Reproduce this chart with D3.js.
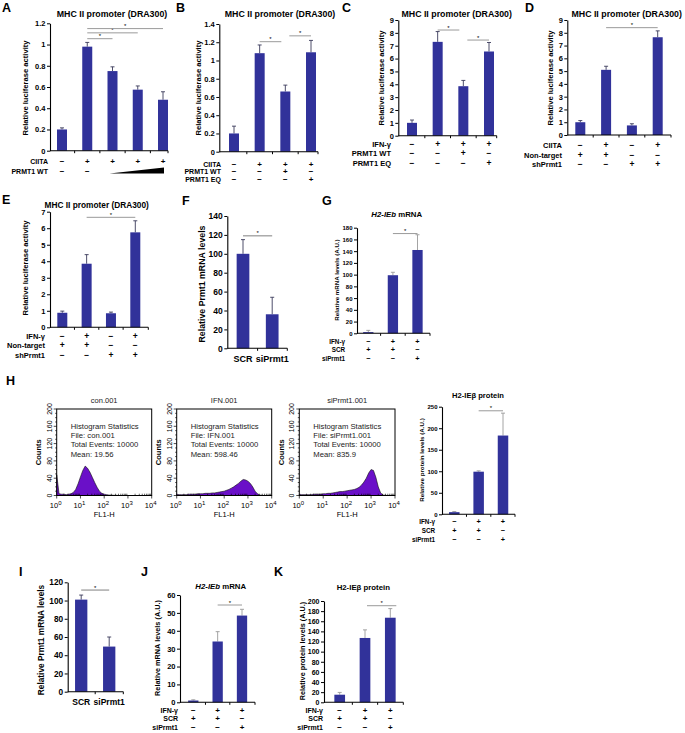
<!DOCTYPE html>
<html><head><meta charset="utf-8">
<script src="https://cdnjs.cloudflare.com/ajax/libs/d3/7.8.5/d3.min.js"></script>
<style>body{margin:0;background:#fff}svg{display:block}</style>
</head><body><svg id="c" width="685" height="733"></svg>
<script>
// ---------------- DATA ----------------
const luciferaseTitle = "MHC II promoter (DRA300)";
const lucLabel = "Relative luciferase activity";

const aValues = [0.20, 0.98, 0.75, 0.575, 0.48];
const aErrors = [0.015, 0.04, 0.04, 0.035, 0.075];
const aTicks = [0, 0.2, 0.4, 0.6, 0.8, 1, 1.2];
const aRows = [["CIITA", ["−", "+", "+", "+", "+"]], ["PRMT1 WT", ["−", "−", "", "", ""]]];
const aSig = [[1, 2, 1.055], [1, 3, 1.11], [1, 4, 1.15]];

const bValues = [0.20, 1.08, 0.66, 1.09];
const bErrors = [0.08, 0.09, 0.07, 0.13];
const bTicks = [0, 0.2, 0.4, 0.6, 0.8, 1, 1.2, 1.4];
const bRows = [["CIITA", ["−", "+", "+", "+"]], ["PRMT1 WT", ["−", "−", "+", "−"]], ["PRMT1 EQ", ["−", "−", "−", "+"]]];
const bSig = [[1, 2, 1.206], [2, 3, 1.27]];

const cValues = [1.0, 7.3, 3.85, 6.55];
const cErrors = [0.22, 0.8, 0.45, 0.7];
const cTicks = [0, 1, 2, 3, 4, 5, 6, 7, 8, 9];
const cRows = [["IFN-γ", ["−", "+", "+", "+"]], ["PRMT1 WT", ["−", "−", "+", "−"]], ["PRMT1 EQ", ["−", "−", "−", "+"]]];
const cSig = [[1, 2, 8.22], [2, 3, 7.44]];

const dValues = [1.0, 5.1, 0.75, 7.65];
const dErrors = [0.13, 0.28, 0.13, 0.5];
const dTicks = [0, 1, 2, 3, 4, 5, 6, 7, 8, 9];
const dRows = [["CIITA", ["−", "+", "−", "+"]], ["Non-target", ["+", "+", "−", "−"]], ["shPrmt1", ["−", "−", "+", "+"]]];
const dSig = [[1, 3, 8.4]];

const eValues = [0.88, 3.85, 0.85, 5.75];
const eErrors = [0.1, 0.55, 0.07, 0.7];
const eTicks = [0, 1, 2, 3, 4, 5, 6, 7];
const eRows = [["IFN-γ", ["−", "+", "−", "+"]], ["Non-target", ["+", "+", "−", "−"]], ["shPrmt1", ["−", "−", "+", "+"]]];
const eSig = [[1, 3, 6.66]];

const fCategories = ["SCR", "siPrmt1"];
const fValues = [100, 36];
const fErrors = [15, 18];
const fTicks = [0, 20, 40, 60, 80, 100, 120, 140];
const fSig = [[0, 1, 119]];

const gValues = [2, 99, 142];
const gErrors = [3, 5, 26];
const gTicks = [0, 20, 40, 60, 80, 100, 120, 140, 160, 180];
const gRows = [["IFN-γ", ["−", "+", "+"]], ["SCR", ["+", "+", "−"]], ["siPrmt1", ["−", "−", "+"]]];
const gSig = [[1, 2, 170]];

// flow cytometry histograms (FL1-H, log decades)
const flBins = [0, 0.1, 0.2, 0.3, 0.4, 0.5, 0.6, 0.7, 0.8, 0.9, 1.0, 1.1, 1.2, 1.3, 1.4, 1.5, 1.6, 1.7, 1.8, 1.9, 2.0,
  2.1, 2.2, 2.3, 2.4, 2.5, 2.6, 2.7, 2.8, 2.9, 3.0, 3.1, 3.2, 3.3, 3.4, 3.5, 3.6, 3.7, 3.8, 3.9, 4.0];
const conCounts = [48, 4, 3, 3, 2, 3, 4, 7, 14, 27, 43, 58, 68, 63, 54, 42, 30, 19, 10, 5, 3,
  2, 1, 1, 0.5, 0.5, 0, 0, 0, 0, 0, 0, 0, 0, 0, 0, 0, 0, 0, 0, 0];
const ifnCounts = [3, 2, 2, 2, 2, 3, 3, 3, 3, 4, 4, 4, 5, 5, 5, 6, 6, 7, 8, 9, 10,
  12, 14, 17, 20, 24, 28, 33, 37, 36, 33, 28, 20, 10, 4, 1, 0.5, 0, 0, 0, 0];
const siCounts = [3, 2, 2, 2, 2, 2, 3, 3, 3, 3, 4, 4, 5, 5, 6, 7, 8, 9, 9, 10, 11,
  12, 13, 14, 16, 19, 24, 31, 40, 52, 60, 58, 42, 20, 6, 1, 0.5, 0, 0, 0, 0];
const histInfo = [
  ["con.001", "File: con.001", "Total Events: 10000", "Mean: 19.56"],
  ["IFN.001", "File: IFN.001", "Total Events: 10000", "Mean: 598.46"],
  ["siPrmt1.001", "File: siPrmt1.001", "Total Events: 10000", "Mean: 835.9"]
];
const countTicks = [0, 40, 80, 120, 160, 200];
const decadeTicks = [1, 10, 100, 1000, 10000];

const hValues = [5, 99, 183];
const hErrors = [1.5, 2, 52];
const hTicks = [0, 50, 100, 150, 200, 250];
const hRows = [["IFN-γ", ["−", "+", "+"]], ["SCR", ["+", "+", "−"]], ["siPrmt1", ["−", "−", "+"]]];
const hSig = [[1, 2, 240.5]];

const iCategories = ["SCR", "siPrmt1"];
const iValues = [101, 49.5];
const iErrors = [5, 10.5];
const iTicks = [0, 20, 40, 60, 80, 100, 120];
const iSig = [[0, 1, 111.5]];

const jValues = [1, 34, 48.5];
const jErrors = [0.4, 5.5, 3.5];
const jTicks = [0, 10, 20, 30, 40, 50, 60];
const jRows = [["IFN-γ", ["−", "+", "+"]], ["SCR", ["+", "+", "−"]], ["siPrmt1", ["−", "−", "+"]]];
const jSig = [[1, 2, 54.4]];

const kValues = [15, 127, 167];
const kErrors = [4.5, 16, 18];
const kTicks = [0, 20, 40, 60, 80, 100, 120, 140, 160, 180, 200];
const kRows = [["IFN-γ", ["−", "+", "+"]], ["SCR", ["+", "+", "−"]], ["siPrmt1", ["−", "−", "+"]]];
const kSig = [[1, 2, 190.7]];

// ---------------- DRAWING ----------------
const FONT = '"Liberation Sans", Arial, Helvetica, sans-serif';
const BAR = "#31329a";
const svg = d3.select("#c").attr("font-family", FONT);
const fmt = d => String(+d.toFixed(2));

function txt(g, x, y, s, o = {}) {
  const t = g.append("text").attr("x", x).attr("y", y).text(s)
    .attr("font-size", o.fs || 8).attr("font-weight", o.w || "bold")
    .attr("text-anchor", o.a || "start").attr("fill", o.c || "#000");
  if (o.rot) t.attr("transform", `rotate(-90,${x},${y})`);
  if (o.it) t.attr("font-style", "italic");
  return t;
}

function barPanel(o) {
  const g = svg.append("g");
  const n = o.values.length;
  const step = (o.cN - o.c0) / (n - 1);
  const pad = 1 - o.bw / step;
  const x = d3.scaleBand().domain(d3.range(n)).range([o.c0 - step / 2, o.cN + step / 2])
    .paddingInner(pad).paddingOuter(pad / 2);
  const cx = i => x(i) + x.bandwidth() / 2;
  const y = d3.scaleLinear().domain([0, o.max]).range([o.yBot, o.yTop]);

  (o.sig || []).forEach(s => {
    const x1 = cx(s[0]) + (s[3] || 0), x2 = cx(s[1]) + (s[4] || 0);
    g.append("line").attr("x1", x1).attr("x2", x2).attr("y1", y(s[2])).attr("y2", y(s[2]))
      .attr("stroke", o.sigColor || "#9a9a9a").attr("stroke-width", 1);
    txt(g, (x1 + x2) / 2, y(s[2]) - 0.5, "*", { fs: 6, a: "middle", w: "normal" });
  });
  const ec = o.errColor || "#3a3a5a";
  o.values.forEach((v, i) => {
    const top = y(v + o.errors[i]);
    g.append("line").attr("x1", cx(i)).attr("x2", cx(i)).attr("y1", y(v)).attr("y2", top)
      .attr("stroke", ec).attr("stroke-width", 0.9);
    g.append("line").attr("x1", cx(i) - 2).attr("x2", cx(i) + 2).attr("y1", top).attr("y2", top)
      .attr("stroke", ec).attr("stroke-width", 0.9);
  });
  g.selectAll("rect.bar").data(o.values).join("rect").attr("class", "bar")
    .attr("x", (d, i) => x(i)).attr("y", d => y(d)).attr("width", x.bandwidth())
    .attr("height", d => o.yBot - y(d)).attr("fill", BAR);
  const ga = g.append("g").attr("transform", `translate(${o.axX},0)`)
    .call(d3.axisLeft(y).tickValues(o.ticks).tickSize(3).tickSizeOuter(0).tickPadding(1.5).tickFormat(fmt));
  ga.attr("font-family", FONT).attr("font-size", o.tfs).attr("font-weight", "bold");
  ga.select(".domain").attr("stroke", "#000").attr("stroke-width", 1.1);
  ga.selectAll(".tick line").attr("stroke", "#000");
  ga.selectAll(".tick text").attr("fill", "#000");
  g.append("line").attr("x1", o.axX).attr("x2", o.axEnd).attr("y1", o.yBot).attr("y2", o.yBot)
    .attr("stroke", "#000").attr("stroke-width", 1.1);
  const bx = d3.range(n - 1).map(i => cx(i) + step / 2).concat([o.axEnd]);
  bx.forEach(b => g.append("line").attr("x1", b).attr("x2", b).attr("y1", o.yBot).attr("y2", o.yBot + 2.5)
    .attr("stroke", "#000").attr("stroke-width", 1));
  (o.rows || []).forEach((r, k) => {
    const yy = o.rowY[k];
    txt(g, o.rowX, yy, r[0], { fs: o.rfs, a: "end" });
    r[1].forEach((s, i) => { if (s) txt(g, cx(i), yy, s, { fs: o.rfs + 1, a: "middle" }); });
  });
  (o.cats || []).forEach((c, i) => txt(g, cx(i), o.catY, c, { fs: o.cfs, a: "middle" }));
  if (o.title) {
    const t = txt(g, o.titleX, o.titleY, "", { fs: o.titfs, a: "middle" });
    o.title.forEach(p => t.append("tspan").text(p[0]).attr("font-style", p[1] ? "italic" : "normal"));
  }
  txt(g, o.ylX, o.ylY, o.ylabel, { fs: o.ylfs, a: "middle", rot: true });
  if (o.letter) txt(g, o.letter[1], o.letter[2], o.letter[0], { fs: 12.5 });
  return { g, cx, y };
}

// A
const pa = barPanel({ values: aValues, errors: aErrors, ticks: aTicks, max: 1.2, sig: aSig, rows: aRows,
  axX: 50, axEnd: 168, yBot: 150.7, yTop: 23.3, c0: 62, cN: 163, bw: 10, tfs: 7.5,
  rowX: 48, rowY: [164, 174], rfs: 7,
  title: [[luciferaseTitle]], titleX: 112, titleY: 17, titfs: 8.8,
  ylabel: lucLabel, ylX: 27.5, ylY: 88, ylfs: 7.6, letter: ["A", 2, 12] });
pa.g.append("polygon")
  .attr("points", [[pa.cx(2) - 3, 173.5], [pa.cx(4) + 1, 173.5], [pa.cx(4) + 1, 167.5]].map(p => p.join(",")).join(" "))
  .attr("fill", "#000");

// B
barPanel({ values: bValues, errors: bErrors, ticks: bTicks, max: 1.4,
  sig: bSig.map((s, k) => k === 0 ? [...s, 0, -4] : [...s, 4, 0]), rows: bRows,
  axX: 219.3, axEnd: 318, yBot: 151.7, yTop: 24, c0: 234, cN: 311, bw: 10, tfs: 7.5,
  rowX: 221, rowY: [166.5, 174, 181.5], rfs: 7,
  title: [[luciferaseTitle]], titleX: 280, titleY: 17, titfs: 8.8,
  ylabel: lucLabel, ylX: 201, ylY: 88, ylfs: 7.6, letter: ["B", 176, 12] });

// C
barPanel({ values: cValues, errors: cErrors, ticks: cTicks, max: 9,
  sig: cSig.map((s, k) => k === 0 ? [...s, 0, -4] : [...s, 4, 0]), rows: cRows,
  axX: 398.3, axEnd: 496.7, yBot: 135.7, yTop: 20, c0: 412, cN: 489, bw: 10, tfs: 7.5,
  rowX: 391, rowY: [146.5, 156, 166], rfs: 7.5,
  title: [[luciferaseTitle]], titleX: 456.7, titleY: 17, titfs: 8.8,
  ylabel: lucLabel, ylX: 384, ylY: 78, ylfs: 7.6, letter: ["C", 342, 12] });

// D
barPanel({ values: dValues, errors: dErrors, ticks: dTicks, max: 9, sig: dSig, rows: dRows,
  axX: 567.3, axEnd: 671, yBot: 135, yTop: 20, c0: 580.3, cN: 657.7, bw: 10, tfs: 7.5,
  rowX: 562, rowY: [147.5, 157.5, 167], rfs: 7.5,
  title: [[luciferaseTitle]], titleX: 626.7, titleY: 17, titfs: 8.8,
  ylabel: lucLabel, ylX: 553, ylY: 78, ylfs: 7.6, letter: ["D", 525, 12] });

// E
barPanel({ values: eValues, errors: eErrors, ticks: eTicks, max: 7, sig: eSig, rows: eRows,
  axX: 50, axEnd: 148.3, yBot: 327.3, yTop: 211.7, c0: 62.3, cN: 135.3, bw: 10, tfs: 7.5,
  rowX: 45, rowY: [339, 348, 357.5], rfs: 7.5,
  title: [[luciferaseTitle]], titleX: 96.7, titleY: 207.5, titfs: 8.3,
  ylabel: lucLabel, ylX: 27.5, ylY: 268, ylfs: 7.6, letter: ["E", 2, 204] });

// F
barPanel({ values: fValues, errors: fErrors, ticks: fTicks, max: 140, sig: fSig, sigColor: "#808080",
  axX: 227.3, axEnd: 287.3, yBot: 348.3, yTop: 216, c0: 243, cN: 272.2, bw: 12.7, tfs: 8.5,
  cats: fCategories, catY: 362, cfs: 9,
  ylabel: "Relative Prmt1 mRNA levels", ylX: 205, ylY: 284, ylfs: 8.8, letter: ["F", 182, 205] });

// G
barPanel({ values: gValues, errors: gErrors, ticks: gTicks, max: 180, sig: gSig, errColor: "#9a9a9a", rows: gRows,
  axX: 357, axEnd: 430, yBot: 333.3, yTop: 227.7, c0: 368.3, cN: 417.5, bw: 10.3, tfs: 6,
  rowX: 345, rowY: [343.5, 352, 361], rfs: 6.3,
  title: [["H2-IEb", true], [" mRNA"]], titleX: 396.7, titleY: 217, titfs: 7.8,
  ylabel: "Relative mRNA levels (A.U.)", ylX: 339, ylY: 280, ylfs: 6.2, letter: ["G", 322, 205] });

// H letter
txt(svg, 6, 385, "H", { fs: 12.5 });

// histograms
const boxes = [[56.7, 151.7], [176.7, 271.7], [299.3, 395]];
const hy0 = 409, hy1 = 495.5;
[conCounts, ifnCounts, siCounts].forEach((counts, h) => {
  const [x0, x1] = boxes[h];
  const g = svg.append("g");
  const x = d3.scaleLog().domain([1, 1e4]).range([x0, x1]);
  const y = d3.scaleLinear().domain([0, 200]).range([hy1, hy0]);
  const pts = flBins.map((b, i) => [Math.pow(10, b), counts[i]]);
  g.append("path").datum(pts)
    .attr("d", d3.area().x(d => x(d[0])).y0(y(0)).y1(d => y(d[1])))
    .attr("fill", "#6a10c8").attr("stroke", "#111").attr("stroke-width", 0.6);
  g.append("rect").attr("x", x0).attr("y", hy0).attr("width", x1 - x0).attr("height", hy1 - hy0)
    .attr("fill", "none").attr("stroke", "#000").attr("stroke-width", 1);
  d3.range(0, 201, 10).forEach(v => {
    const major = countTicks.includes(v);
    g.append("line").attr("x1", x0 - (major ? 3 : 1.5)).attr("x2", x0).attr("y1", y(v)).attr("y2", y(v))
      .attr("stroke", "#000").attr("stroke-width", 0.7);
  });
  countTicks.forEach(v => txt(g, x0 - 5, y(v), String(v), { fs: 7, a: "middle", w: "normal", rot: true }));
  decadeTicks.forEach((d, k) => {
    g.append("line").attr("x1", x(d)).attr("x2", x(d)).attr("y1", hy1).attr("y2", hy1 + 3)
      .attr("stroke", "#000").attr("stroke-width", 0.7);
    if (d < 1e4) [2, 3, 4, 5, 6, 7, 8, 9].forEach(m => g.append("line").attr("x1", x(d * m)).attr("x2", x(d * m))
      .attr("y1", hy1).attr("y2", hy1 - 1.8).attr("stroke", "#000").attr("stroke-width", 0.6));
    const t = txt(g, x(d) - 1, 508, "10", { fs: 7.5, a: "middle", w: "normal" });
    t.append("tspan").attr("dy", -3.5).attr("font-size", 6).text(String(k));
  });
  txt(g, (x0 + x1) / 2, 517, "FL1-H", { fs: 7.5, a: "middle", w: "normal" });
  txt(g, x0 - 15.5, (hy0 + hy1) / 2, "Counts", { fs: 7.5, a: "middle", rot: true });
  txt(g, (x0 + x1) / 2, 402.5, histInfo[h][0], { fs: 7.5, a: "middle", w: "normal", c: "#222" });
  histInfo[h].forEach((s, k) => txt(g, x0 + 14, 429 + k * 9.2, k === 0 ? "Histogram Statistics" : s,
    { fs: 7.7, w: "normal", c: "#222" }));
});

// H bar
barPanel({ values: hValues, errors: hErrors, ticks: hTicks, max: 250, sig: hSig, errColor: "#9a9a9a", rows: hRows,
  axX: 442, axEnd: 515, yBot: 514.3, yTop: 406.7, c0: 454.3, cN: 503, bw: 10.5, tfs: 6,
  rowX: 435, rowY: [524, 533, 542], rfs: 6.3,
  title: [["H2-IEβ protein"]], titleX: 478, titleY: 398, titfs: 7.6,
  ylabel: "Relative protein levels (A.U.)", ylX: 424, ylY: 460, ylfs: 6.2 });

// I
barPanel({ values: iValues, errors: iErrors, ticks: iTicks, max: 120, sig: iSig, sigColor: "#808080",
  axX: 67.7, axEnd: 123.3, yBot: 691.7, yTop: 582.3, c0: 81.2, cN: 109.2, bw: 12.3, tfs: 8.3,
  cats: iCategories, catY: 704.5, cfs: 8.5,
  ylabel: "Relative Prmt1 mRNA levels", ylX: 44, ylY: 640, ylfs: 8.3, letter: ["I", 19, 576] });

// J
barPanel({ values: jValues, errors: jErrors, ticks: jTicks, max: 60, sig: jSig, errColor: "#9a9a9a", rows: jRows,
  axX: 180, axEnd: 255, yBot: 702.3, yTop: 595, c0: 193.3, cN: 242, bw: 10.3, tfs: 7.5,
  rowX: 178, rowY: [712.5, 721, 730], rfs: 7,
  title: [["H2-IEb", true], [" mRNA"]], titleX: 220.7, titleY: 589, titfs: 7.8,
  ylabel: "Relative mRNA levels (A.U.)", ylX: 160, ylY: 648, ylfs: 7.3, letter: ["J", 141, 576] });

// K
barPanel({ values: kValues, errors: kErrors, ticks: kTicks, max: 200, sig: kSig.map(s => [...s, 2, 6]), errColor: "#9a9a9a", rows: kRows,
  axX: 324, axEnd: 403.3, yBot: 702.3, yTop: 601, c0: 339.7, cN: 390.3, bw: 10.7, tfs: 7,
  rowX: 323, rowY: [712.5, 721, 730], rfs: 7,
  title: [["H2-IEβ protein"]], titleX: 363.3, titleY: 590, titfs: 7.8,
  ylabel: "Relative protein levels (A.U.)", ylX: 305, ylY: 651, ylfs: 7.3, letter: ["K", 274, 576] });
</script></body></html>
